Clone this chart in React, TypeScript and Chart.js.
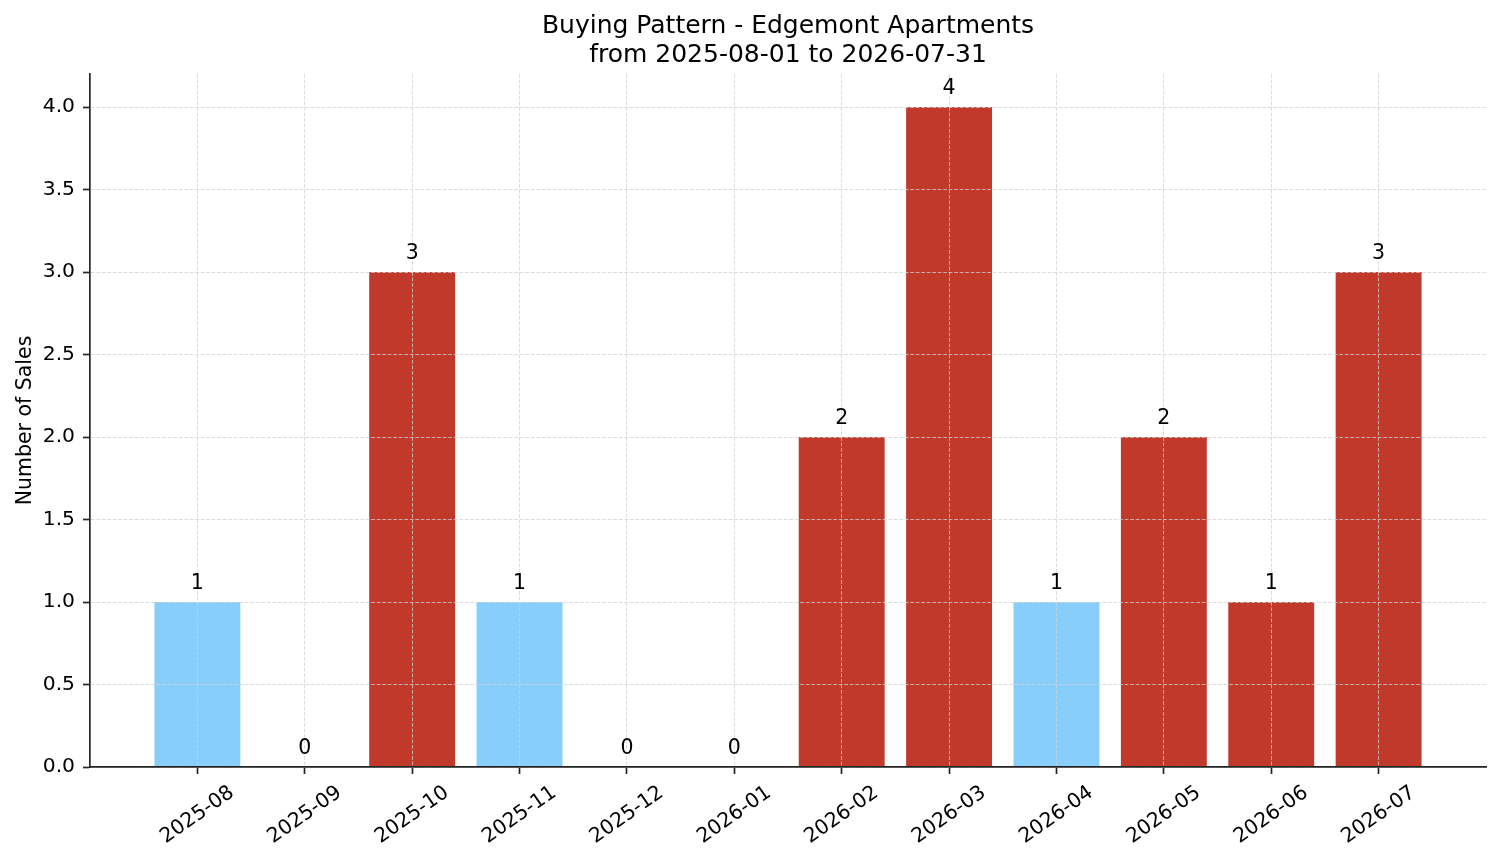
import { useEffect, useRef } from "react";
import { Chart, registerables } from "chart.js";

Chart.register(...registerables);

const months = [
  "2025-08",
  "2025-09",
  "2025-10",
  "2025-11",
  "2025-12",
  "2026-01",
  "2026-02",
  "2026-03",
  "2026-04",
  "2026-05",
  "2026-06",
  "2026-07",
];
const sales = [1, 0, 3, 1, 0, 0, 2, 4, 1, 2, 1, 3];
const BLUE = "#87cefa";
const RED = "#c0392b";
const barColors = [BLUE, RED, RED, BLUE, RED, RED, RED, RED, BLUE, RED, RED, RED];
const yTicks = [0, 0.5, 1, 1.5, 2, 2.5, 3, 3.5, 4];
const titleLines = ["Buying Pattern - Edgemont Apartments", "from 2025-08-01 to 2026-07-31"];
const yLabel = "Number of Sales";

const FONT = '"DejaVu Sans", sans-serif';
const AXIS = "#262626";
const GRID = "rgba(210,210,210,0.75)";

// title, bar value labels and the rotated month labels (centred like matplotlib)
const annotate = {
  id: "annotate",
  afterDraw(chart: any) {
    const { ctx, chartArea, scales } = chart;
    const xs = scales.x;
    ctx.save();
    ctx.fillStyle = "#000";

    ctx.font = `25px ${FONT}`;
    ctx.textAlign = "center";
    ctx.textBaseline = "alphabetic";
    const cx = (chartArea.left + chartArea.right) / 2;
    ctx.fillText(titleLines[0], cx, 33);
    ctx.fillText(titleLines[1], cx, 62);

    ctx.font = `20.5px ${FONT}`;
    const meta = chart.getDatasetMeta(0);
    meta.data.forEach((bar: any, i: number) => {
      ctx.fillText(String(sales[i]), bar.x, bar.y - 13);
    });

    ctx.font = `20.3px ${FONT}`;
    ctx.textBaseline = "middle";
    const rot = (35 * Math.PI) / 180;
    const th = 20.3 * 1.164;
    const top = chartArea.bottom + 14;
    months.forEach((m, i) => {
      const w = ctx.measureText(m).width;
      const bh = w * Math.sin(rot) + th * Math.cos(rot);
      ctx.save();
      ctx.translate(xs.getPixelForValue(i), top + bh / 2);
      ctx.rotate(-rot);
      ctx.fillText(m, 0, 0);
      ctx.restore();
    });
    ctx.restore();
  },
};

export default function App() {
  const canvasRef = useRef<HTMLCanvasElement | null>(null);

  useEffect(() => {
    document.body.style.margin = "0";
    if (!canvasRef.current) return;

    const gridOpts = {
      z: 1,
      offset: false,
      color: GRID,
      lineWidth: 1,
      drawTicks: true,
      tickLength: 7,
      tickColor: AXIS,
      tickWidth: 1.7,
      tickBorderDash: [],
    };
    const borderOpts = { display: true, color: AXIS, width: 1.7, dash: [3.8, 1.7], z: 2 };

    const chart = new Chart(canvasRef.current, {
      type: "bar",
      data: {
        datasets: [
          {
            data: sales.map((v, i) => ({ x: i, y: v })),
            backgroundColor: barColors,
            borderWidth: 0,
            barPercentage: 0.8,
            categoryPercentage: 1,
          },
        ],
      },
      options: {
        responsive: false,
        animation: false,
        layout: { padding: { top: 74, right: 15, bottom: 0, left: 0 } },
        plugins: {
          legend: { display: false },
          tooltip: { enabled: false },
          title: { display: false },
        },
        scales: {
          x: {
            type: "linear",
            min: -1,
            max: 12,
            offset: false,
            afterBuildTicks: (s: any) => {
              s.ticks = months.map((_, i) => ({ value: i }));
            },
            afterFit: (s: any) => {
              s.height = 96;
            },
            ticks: { display: false },
            grid: gridOpts,
            border: borderOpts,
          },
          y: {
            type: "linear",
            min: 0,
            max: 4.2,
            afterBuildTicks: (s: any) => {
              s.ticks = yTicks.map((v) => ({ value: v }));
            },
            afterFit: (s: any) => {
              s.width = 90;
            },
            ticks: {
              color: "#000",
              font: { family: FONT, size: 20.3 },
              padding: 8,
              callback: (v: any) => Number(v).toFixed(1),
            },
            title: {
              display: true,
              text: yLabel,
              color: "#000",
              font: { family: FONT, size: 20.5 },
              padding: { top: 13, bottom: 0 },
            },
            grid: gridOpts,
            border: borderOpts,
          },
        },
      } as any,
      plugins: [annotate],
    });

    return () => {
      chart.destroy();
    };
  }, []);

  return (
    <div style={{ width: 1501, height: 863, background: "#fff" }}>
      <canvas ref={canvasRef} width={1501} height={863} style={{ display: "block" }} />
    </div>
  );
}
